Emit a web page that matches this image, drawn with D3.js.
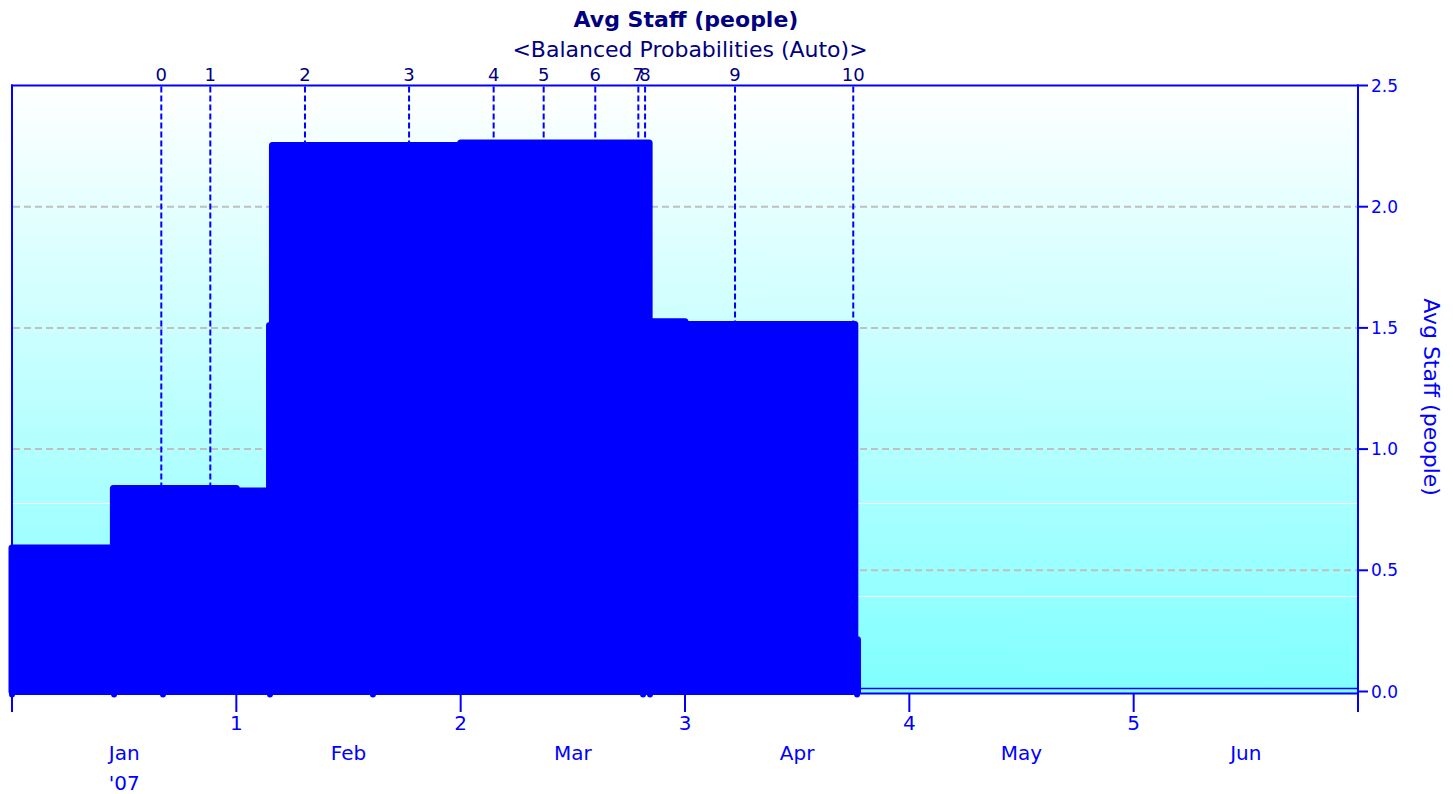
<!DOCTYPE html>
<html>
<head>
<meta charset="utf-8">
<script src="https://cdn.jsdelivr.net/npm/d3@7"></script>
<style>
  html, body { margin: 0; padding: 0; background: #ffffff; }
  svg { display: block; font-family: "DejaVu Sans", sans-serif; }
</style>
</head>
<body>
<svg id="chart" width="1453" height="794"></svg>
<script>
// ---------------- data ----------------
const chartTitle = "Avg Staff (people)";
const chartSubtitle = "<Balanced Probabilities (Auto)>";
const yAxisTitle = "Avg Staff (people)";

// step series: month offset where each level starts, and its value
const stepStarts = [0, 0.452, 1.0, 1.148, 1.161, 2.0, 2.840, 3.0, 3.757, 3.769];
const stepValues = [0.592, 0.837, 0.827, 1.510, 2.252, 2.263, 1.525, 1.514, 0.214, 0];

// data points with drop lines (visible as small dots under the baseline)
const dropMonths = [0, 0.455, 0.673, 1.150, 1.609, 2.813, 2.844, 3.767];

// milestone markers (top axis)
const milestoneLabels = ["0", "1", "2", "3", "4", "5", "6", "7", "8", "9", "10"];
const milestoneMonths = [0.6655, 0.884, 1.306, 1.770, 2.147, 2.370, 2.600, 2.792, 2.822, 3.223, 3.750];

// bottom axis
const monthTicks = [0, 1, 2, 3, 4, 5, 6];
const monthTickLabels = ["", "1", "2", "3", "4", "5", ""];
const monthNames = ["Jan", "Feb", "Mar", "Apr", "May", "Jun"];
const yearLabel = "'07";

// right axis
const yTicks = [0, 0.5, 1.0, 1.5, 2.0, 2.5];
const gridLevels = [0.5, 1.0, 1.5, 2.0];
const bandLevels = [0.396, 0.776];

// ---------------- layout ----------------
const svg = d3.select("#chart");
const L = 12, R = 1358, T = 85.5, B0 = 691.5;
const x = d3.scaleLinear().domain([0, 6]).range([L, R]);
const y = d3.scaleLinear().domain([0, 2.5]).range([B0, T]);

const navy = "#000080", blue = "#0000ff";

// background gradient
const defs = svg.append("defs");
const grad = defs.append("linearGradient").attr("id", "bg")
  .attr("x1", 0).attr("y1", 0).attr("x2", 0).attr("y2", 1);
grad.append("stop").attr("offset", "0%").attr("stop-color", "#ffffff");
grad.append("stop").attr("offset", "100%").attr("stop-color", "#80ffff");

svg.append("rect")
  .attr("x", L).attr("y", T)
  .attr("width", R - L).attr("height", B0 - T + 2)
  .attr("fill", "url(#bg)");

// faint white bands of the gradient
svg.append("g").selectAll("line").data(bandLevels).join("line")
  .attr("x1", L + 1).attr("x2", R - 1)
  .attr("y1", d => Math.round(y(d)) + 0.5).attr("y2", d => Math.round(y(d)) + 0.5)
  .attr("stroke", "#ffffff").attr("stroke-width", 1).attr("opacity", 0.9);

// grid lines
svg.append("g").selectAll("line").data(gridLevels).join("line")
  .attr("x1", L + 1).attr("x2", R - 1)
  .attr("y1", d => y(d)).attr("y2", d => y(d))
  .attr("stroke", "#c0c0c0").attr("stroke-width", 2)
  .attr("stroke-dasharray", "7,4");

// milestone dashed lines
svg.append("g").selectAll("line").data(milestoneMonths).join("line")
  .attr("x1", d => x(d)).attr("x2", d => x(d))
  .attr("y1", T + 1).attr("y2", B0)
  .attr("stroke", blue).attr("stroke-width", 2)
  .attr("stroke-dasharray", "6,3");

// milestone labels
svg.append("g").selectAll("text").data(milestoneMonths).join("text")
  .attr("x", d => x(d)).attr("y", 81)
  .attr("text-anchor", "middle")
  .attr("font-size", 18).attr("fill", navy)
  .text((d, i) => milestoneLabels[i]);

// step area
const series = stepStarts.map((m, i) => ({ m, v: stepValues[i] }));
const area = d3.area()
  .x(d => x(d.m)).y0(y(0)).y1(d => y(d.v))
  .curve(d3.curveStepAfter);

// drop line caps (under the area)
svg.append("g").selectAll("circle").data(dropMonths).join("circle")
  .attr("cx", d => x(d)).attr("cy", y(0) + 3)
  .attr("r", 3).attr("fill", blue);

svg.append("path")
  .datum(series)
  .attr("d", area)
  .attr("fill", blue)
  .attr("stroke", blue)
  .attr("stroke-width", 7)
  .attr("stroke-linejoin", "round");

// zero line continuing after the last data point
const lastM = stepStarts[stepStarts.length - 1];
svg.append("line")
  .attr("x1", x(lastM) + 3).attr("x2", R)
  .attr("y1", y(0) - 3).attr("y2", y(0) - 3)
  .attr("stroke", blue).attr("stroke-width", 1.5);

// frame: left and top
svg.append("line").attr("x1", L).attr("x2", L).attr("y1", T - 1).attr("y2", B0 + 2)
  .attr("stroke", blue).attr("stroke-width", 2);
svg.append("line").attr("x1", L - 1).attr("x2", R).attr("y1", T).attr("y2", T)
  .attr("stroke", blue).attr("stroke-width", 2);

// bottom axis
const xAxisY = B0 + 2;
svg.append("line").attr("x1", L).attr("x2", R).attr("y1", xAxisY).attr("y2", xAxisY)
  .attr("stroke", blue).attr("stroke-width", 2);
svg.append("g").selectAll("line").data(monthTicks).join("line")
  .attr("x1", d => x(d)).attr("x2", d => x(d))
  .attr("y1", xAxisY).attr("y2", 712)
  .attr("stroke", blue).attr("stroke-width", 2);
svg.append("g").selectAll("text").data(monthTicks).join("text")
  .attr("x", d => x(d)).attr("y", 730)
  .attr("text-anchor", "middle")
  .attr("font-size", 20).attr("fill", blue)
  .text((d, i) => monthTickLabels[i]);
svg.append("g").selectAll("text").data(monthNames).join("text")
  .attr("x", (d, i) => x(i + 0.5)).attr("y", 760)
  .attr("text-anchor", "middle")
  .attr("font-size", 20).attr("fill", blue)
  .text(d => d);
svg.append("text")
  .attr("x", x(0.5)).attr("y", 790)
  .attr("text-anchor", "middle")
  .attr("font-size", 20).attr("fill", blue)
  .text(yearLabel);

// right axis
svg.append("line").attr("x1", R).attr("x2", R).attr("y1", T - 1).attr("y2", 712)
  .attr("stroke", blue).attr("stroke-width", 2);
svg.append("g").selectAll("line").data(yTicks).join("line")
  .attr("x1", R).attr("x2", R + 10)
  .attr("y1", d => y(d)).attr("y2", d => y(d))
  .attr("stroke", blue).attr("stroke-width", 2);
svg.append("g").selectAll("text").data(yTicks).join("text")
  .attr("x", R + 13).attr("y", d => y(d))
  .attr("dy", "0.36em")
  .attr("font-size", 17).attr("fill", blue)
  .text(d => d3.format(".1f")(d));

svg.append("text")
  .attr("transform", "translate(1424," + 397 + ") rotate(90)")
  .attr("text-anchor", "middle")
  .attr("font-size", 22).attr("fill", blue)
  .text(yAxisTitle);

// titles
svg.append("text")
  .attr("x", 686).attr("y", 27)
  .attr("text-anchor", "middle")
  .attr("font-size", 22).attr("font-weight", "bold").attr("fill", navy)
  .text(chartTitle);
svg.append("text")
  .attr("x", 690).attr("y", 57)
  .attr("text-anchor", "middle")
  .attr("font-size", 22).attr("fill", navy)
  .text(chartSubtitle);
</script>
</body>
</html>
